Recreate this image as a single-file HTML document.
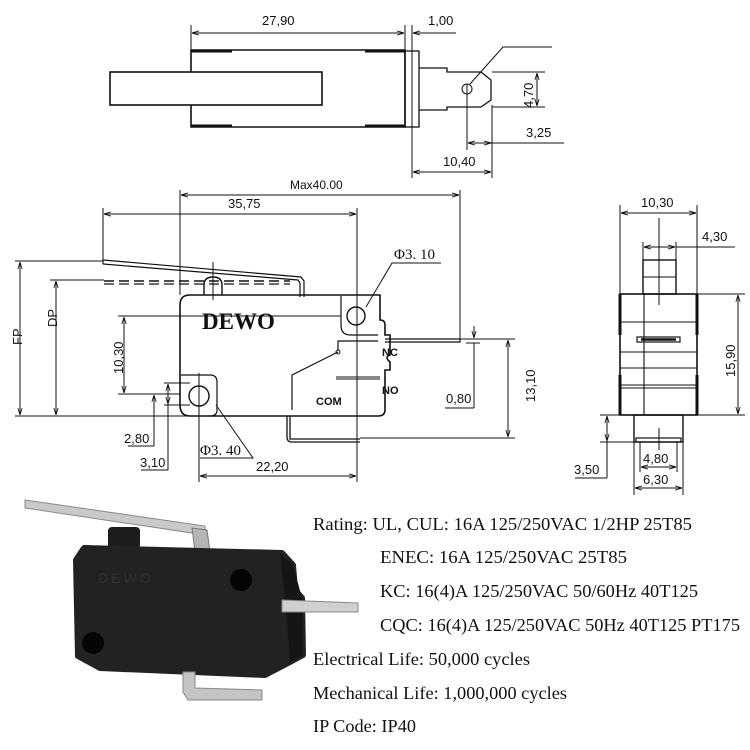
<!DOCTYPE html>
<html><head><meta charset="utf-8"><style>
html,body{margin:0;padding:0;background:#fff;}
svg{display:block;}
.d{font-family:"Liberation Sans",sans-serif;font-size:13px;fill:#111;}
.s{font-family:"Liberation Serif",serif;font-size:15px;fill:#111;}
.t{font-family:"Liberation Serif",serif;font-size:18px;fill:#111;}
</style></head><body>
<svg width="750" height="750" viewBox="0 0 750 750" xmlns="http://www.w3.org/2000/svg">
<defs>
<marker id="a" viewBox="0 0 10 10" refX="10" refY="5" markerWidth="7" markerHeight="7" orient="auto-start-reverse"><path d="M0,2 L10,5 L0,8" fill="none" stroke="#111" stroke-width="1.2"/></marker>
</defs>
<g stroke="#111" fill="none" stroke-width="1">
<!-- TOP VIEW -->
<rect x="110" y="72" width="212" height="33" stroke-width="1.6"/>
<path d="M191 72 V50 H405 V127 H191 V105" stroke-width="1.6"/>
<path d="M191 51 H232 M365 51 H405 M191 126 H232 M365 126 H405" stroke-width="3"/>
<rect x="405" y="51" width="14" height="76" stroke-width="1.3"/>
<path d="M419 68 H447 V72 H481 L491 80 V100 L481 107 H447 V110 H419" stroke-width="1.3"/>
<circle cx="467" cy="89" r="5"/>
<line x1="467" y1="84" x2="467" y2="150"/>
<path d="M470 84 L503 47 H552"/>
<line x1="191" y1="25" x2="191" y2="50"/>
<line x1="405" y1="25" x2="405" y2="50"/>
<line x1="412" y1="25" x2="412" y2="178"/>
<line x1="492" y1="105" x2="492" y2="178"/>
<line x1="192" y1="33" x2="404" y2="33" marker-start="url(#a)" marker-end="url(#a)"/>
<line x1="456" y1="33" x2="413" y2="33" marker-end="url(#a)"/>
<line x1="413" y1="172" x2="491" y2="172" marker-start="url(#a)" marker-end="url(#a)"/>
<line x1="468" y1="143" x2="491" y2="143" marker-start="url(#a)" marker-end="url(#a)"/>
<line x1="491" y1="143" x2="564" y2="143"/>
<line x1="537" y1="73" x2="537" y2="106" marker-start="url(#a)" marker-end="url(#a)"/>
<line x1="492" y1="72" x2="545" y2="72"/><line x1="492" y1="107" x2="545" y2="107"/>

<!-- FRONT VIEW -->
<path d="M103 260 L301 277 L304 281 V297" stroke-width="1.2"/>
<path d="M103 264 L298 280 L300 283 V297" stroke-width="1.2"/>
<line x1="103" y1="260" x2="103" y2="264" stroke-width="1.2"/>
<path d="M104 281 H290" stroke-dasharray="10,5" stroke-width="1.5"/>
<path d="M104 284 H290" stroke-dasharray="10,5" stroke-width="1.2"/>
<path d="M204 295 V285 Q204 277 213 277 Q222 277 222 285 V295" stroke-width="1.4"/>
<path d="M188 295 H380 V320 Q385 320 385 325 V335 H390 V355 Q384 357 390 362 V370 L385 370 V410 Q385 416 378 416 H190 Q180 416 180 405 V305 Q180 295 190 295 Z" stroke-width="1.6"/>
<path d="M341 296 V325 Q341 335 350 335 H378" stroke-width="1.2"/>
<circle cx="356" cy="316" r="9" stroke-width="1.4"/>
<path d="M181 375 H210 Q217 375 217 382 V410 Q217 416 210 416" stroke-width="1.2"/>
<circle cx="199" cy="396" r="10" stroke-width="1.4"/>
<path d="M385 339 H460 V342 H385" stroke-width="1.2"/>
<path d="M338 350 V341 H378 M338 352 L292 375 V410" stroke-width="1.2"/>
<circle cx="338" cy="352" r="2"/>
<path d="M336 377 H380 M336 379 H380" stroke-width="1"/>
<path d="M287 416 V437 Q287 442 292 442 H360 M290 416 V439 H360" stroke-width="1.3"/>
<!-- dims front -->
<line x1="180" y1="190" x2="180" y2="295"/>
<line x1="460" y1="190" x2="460" y2="339"/>
<line x1="181" y1="195" x2="459" y2="195" marker-start="url(#a)" marker-end="url(#a)"/>
<line x1="103" y1="208" x2="103" y2="261"/>
<line x1="357" y1="208" x2="357" y2="482"/>
<line x1="104" y1="214" x2="356" y2="214" marker-start="url(#a)" marker-end="url(#a)"/>
<line x1="213" y1="262" x2="213" y2="300"/>
<line x1="15" y1="261" x2="103" y2="261"/>
<line x1="50" y1="280" x2="104" y2="280"/>
<line x1="15" y1="416" x2="380" y2="416"/>
<line x1="20" y1="262" x2="20" y2="415" marker-start="url(#a)" marker-end="url(#a)"/>
<line x1="56" y1="281" x2="56" y2="415" marker-start="url(#a)" marker-end="url(#a)"/>
<line x1="118" y1="316" x2="341" y2="316"/>
<line x1="118" y1="394" x2="180" y2="394"/>
<line x1="124" y1="317" x2="124" y2="393" marker-start="url(#a)" marker-end="url(#a)"/>
<line x1="164" y1="383" x2="190" y2="383"/>
<line x1="164" y1="405" x2="190" y2="405"/>
<line x1="154" y1="395" x2="154" y2="446" marker-start="url(#a)"/>
<line x1="128" y1="446" x2="154" y2="446"/>
<line x1="168" y1="384" x2="168" y2="404" marker-start="url(#a)" marker-end="url(#a)"/>
<line x1="168" y1="404" x2="168" y2="470"/>
<line x1="141" y1="470" x2="168" y2="470"/>
<line x1="199" y1="373" x2="199" y2="482"/>
<line x1="200" y1="476" x2="356" y2="476" marker-start="url(#a)" marker-end="url(#a)"/>
<path d="M216 405 L253 458 H200"/>
<path d="M366 307 L392 263 H441"/>
<line x1="460" y1="339" x2="515" y2="339"/>
<line x1="360" y1="438" x2="515" y2="438"/>
<line x1="508" y1="340" x2="508" y2="437" marker-start="url(#a)" marker-end="url(#a)"/>
<line x1="474" y1="326" x2="474" y2="338" marker-end="url(#a)"/>
<line x1="474" y1="343" x2="474" y2="408"/>
<line x1="466" y1="343" x2="480" y2="343"/>
<line x1="445" y1="408" x2="474" y2="408"/>

<!-- SIDE VIEW -->
<rect x="643" y="260" width="33" height="34" stroke-width="1.4"/>
<line x1="643" y1="277" x2="676" y2="277"/>
<rect x="620" y="294" width="77" height="121" stroke-width="1.6"/>
<path d="M620 294 V335 M697 294 V335 M620 375 V415 M697 375 V415" stroke-width="3"/>
<path d="M620 322 H697 M620 352 H697 M620 368 H697 M620 385 H697 M620 388 H697 M644 294 V415" stroke-width="1.1"/>
<rect x="637" y="337" width="43" height="5" stroke-width="1.2"/>
<line x1="641" y1="339.5" x2="676" y2="339.5" stroke-width="2.5"/>
<rect x="634" y="415" width="49" height="27" stroke-width="1.4"/>
<rect x="636" y="438" width="45" height="4" stroke-width="1.2"/>
<line x1="659" y1="218" x2="659" y2="305"/>
<line x1="659" y1="428" x2="659" y2="450"/>
<line x1="620" y1="205" x2="620" y2="294"/>
<line x1="697" y1="205" x2="697" y2="294"/>
<line x1="621" y1="213" x2="696" y2="213" marker-start="url(#a)" marker-end="url(#a)"/>
<line x1="643" y1="242" x2="643" y2="260"/>
<line x1="676" y1="242" x2="676" y2="260"/>
<line x1="644" y1="247" x2="675" y2="247" marker-start="url(#a)" marker-end="url(#a)"/>
<line x1="676" y1="247" x2="735" y2="247"/>
<line x1="697" y1="294" x2="745" y2="294"/>
<line x1="697" y1="415" x2="745" y2="415"/>
<line x1="738" y1="295" x2="738" y2="414" marker-start="url(#a)" marker-end="url(#a)"/>
<line x1="600" y1="415" x2="634" y2="415"/>
<line x1="600" y1="442" x2="634" y2="442"/>
<line x1="607" y1="416" x2="607" y2="441" marker-start="url(#a)" marker-end="url(#a)"/>
<line x1="607" y1="441" x2="607" y2="478"/>
<line x1="575" y1="478" x2="607" y2="478"/>
<line x1="640" y1="442" x2="640" y2="472"/><line x1="677" y1="442" x2="677" y2="472"/>
<line x1="634" y1="442" x2="634" y2="495"/><line x1="683" y1="442" x2="683" y2="495"/>
<line x1="641" y1="467" x2="676" y2="467" marker-start="url(#a)" marker-end="url(#a)"/>
<line x1="635" y1="488" x2="682" y2="488" marker-start="url(#a)" marker-end="url(#a)"/>
</g>

<!-- dim labels -->
<g class="d">
<text x="262" y="25">27,90</text>
<text x="428" y="25">1,00</text>
<text x="526" y="137">3,25</text>
<text x="443" y="166">10,40</text>
<text transform="translate(533,108) rotate(-90)">4,70</text>
<text x="290" y="189" font-size="12">Max40.00</text>
<text x="228" y="208">35,75</text>
<text transform="translate(22,345) rotate(-90)">FP</text>
<text transform="translate(57,327) rotate(-90)">DP</text>
<text transform="translate(123,374) rotate(-90)">10,30</text>
<text x="124" y="443">2,80</text>
<text x="140" y="467">3,10</text>
<text x="256" y="471">22,20</text>
<text x="446" y="403">0,80</text>
<text transform="translate(535,402) rotate(-90)">13,10</text>
<text x="641" y="207">10,30</text>
<text x="702" y="241">4,30</text>
<text transform="translate(735,377) rotate(-90)">15,90</text>
<text x="574" y="474">3,50</text>
<text x="643" y="463">4,80</text>
<text x="643" y="484">6,30</text>
</g>
<text class="s" x="200" y="455">Φ3. 40</text>
<text class="s" x="394" y="259">Φ3. 10</text>
<text x="202" y="329" font-family="Liberation Serif,serif" font-weight="bold" font-size="23" fill="#111">DEWO</text>
<g font-family="Liberation Sans,sans-serif" font-weight="bold" font-size="11" fill="#111">
<text x="382" y="356">NC</text><text x="382" y="394">NO</text><text x="316" y="405">COM</text>
</g>

<!-- PHOTO -->
<polygon points="25,500 205,526 205,535 25,508" fill="#c9c9c9" stroke="#888"/>
<rect x="108" y="527" width="32" height="22" rx="4" fill="#1c1c1c"/>
<polygon points="192,528 207,530 210,552 195,552" fill="#b5b5b5" stroke="#777"/>
<polygon points="84,548 282,553 293,565 295,590 302,598 303,655 290,662 265,675 100,668 78,656 76,560" fill="#222" stroke="#222" stroke-width="6" stroke-linejoin="round"/>
<polygon points="280,553 293,565 302,598 303,655 290,662 285,600" fill="#151515"/>
<polygon points="282,600 358,603 358,612 282,612" fill="#d0d0d0" stroke="#888"/>
<polygon points="183,672 195,672 195,688 262,690 262,700 188,700 183,692" fill="#c4c4c4" stroke="#888"/>
<circle cx="241" cy="580" r="11" fill="#050505"/>
<circle cx="93" cy="643" r="11" fill="#050505"/>
<text x="98" y="583" font-family="Liberation Sans,sans-serif" font-size="14" fill="#303030" letter-spacing="3">DEWO</text>

<!-- SPECS -->
<g class="t">
<text x="313" y="530" textLength="379" lengthAdjust="spacingAndGlyphs">Rating:  UL, CUL: 16A 125/250VAC 1/2HP 25T85</text>
<text x="380" y="563" textLength="247" lengthAdjust="spacingAndGlyphs">ENEC:  16A 125/250VAC 25T85</text>
<text x="380" y="597" textLength="318" lengthAdjust="spacingAndGlyphs">KC: 16(4)A 125/250VAC 50/60Hz 40T125</text>
<text x="380" y="631" textLength="360" lengthAdjust="spacingAndGlyphs">CQC: 16(4)A 125/250VAC 50Hz 40T125 PT175</text>
<text x="313" y="665" textLength="217" lengthAdjust="spacingAndGlyphs">Electrical Life: 50,000 cycles</text>
<text x="313" y="699" textLength="254" lengthAdjust="spacingAndGlyphs">Mechanical Life: 1,000,000 cycles</text>
<text x="313" y="732" textLength="103" lengthAdjust="spacingAndGlyphs">IP Code: IP40</text>
</g>
</svg>
</body></html>
